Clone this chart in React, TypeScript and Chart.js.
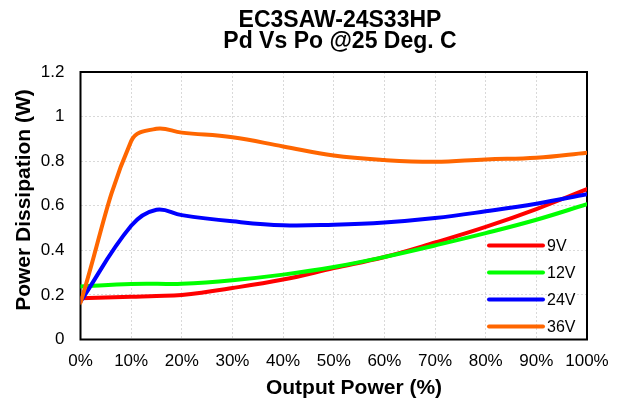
import React, { useEffect, useRef } from "react";
import { Chart, registerables } from "chart.js";

Chart.register(...registerables);

const titleLines = ["EC3SAW-24S33HP", "Pd Vs Po @25 Deg. C"];
const xAxisTitle = "Output Power (%)";
const yAxisTitle = "Power Dissipation (W)";

const outputPct = [0, 10, 15, 20, 30, 40, 50, 60, 70, 80, 90, 100];
const seriesLabels = ["9V", "12V", "24V", "36V"];
const seriesColors = ["#FF0000", "#00FF00", "#0000FF", "#FF6600"];
const pd9V = [0.185, 0.192, 0.195, 0.2, 0.231, 0.269, 0.32, 0.37, 0.435, 0.505, 0.585, 0.675];
const pd12V = [0.238, 0.249, 0.25, 0.25, 0.266, 0.291, 0.325, 0.37, 0.422, 0.477, 0.537, 0.607];
const pd24V = [0.17, 0.51, 0.582, 0.558, 0.53, 0.512, 0.515, 0.525, 0.545, 0.575, 0.609, 0.652];
const pd36V = [0.165, 0.89, 0.945, 0.928, 0.907, 0.866, 0.825, 0.805, 0.797, 0.808, 0.815, 0.838];
const seriesValues = [pd9V, pd12V, pd24V, pd36V];

const xTickLabels = ["0%", "10%", "20%", "30%", "40%", "50%", "60%", "70%", "80%", "90%", "100%"];
const yTickLabels = ["0", "0.2", "0.4", "0.6", "0.8", "1", "1.2"];

const FONT = "'Liberation Sans', Arial, sans-serif";

const decorPlugin = {
  id: "decor",
  beforeDatasetsDraw(chart: any) {
    const { ctx, chartArea } = chart;
    ctx.save();
    ctx.strokeStyle = "#000000";
    ctx.lineWidth = 2;
    ctx.strokeRect(chartArea.left, chartArea.top, chartArea.right - chartArea.left, chartArea.bottom - chartArea.top);
    ctx.restore();
  },
  afterDraw(chart: any) {
    const { ctx, chartArea } = chart;
    ctx.save();
    ctx.fillStyle = "#000000";
    ctx.textAlign = "center";
    ctx.textBaseline = "middle";
    // chart title
    ctx.font = `bold 23px ${FONT}`;
    ctx.fillText(titleLines[0], 340, 21);
    ctx.fillText(titleLines[1], 340, 42);
    // x axis title
    ctx.font = `bold 21px ${FONT}`;
    ctx.fillText(xAxisTitle, 354, 388);
    // y axis title
    ctx.save();
    ctx.translate(24, 200);
    ctx.rotate(-Math.PI / 2);
    ctx.fillText(yAxisTitle, 0, 0);
    ctx.restore();
    // legend
    ctx.font = `16px ${FONT}`;
    ctx.textAlign = "left";
    const x0 = chartArea.right - 98;
    const y0 = chartArea.bottom - 94;
    chart.data.datasets.forEach((ds: any, i: number) => {
      const y = y0 + i * 27;
      ctx.strokeStyle = ds.borderColor;
      ctx.lineWidth = 4;
      ctx.lineCap = "round";
      ctx.beginPath();
      ctx.moveTo(x0, y);
      ctx.lineTo(x0 + 54, y);
      ctx.stroke();
      ctx.fillText(ds.label, x0 + 58, y + 1);
    });
    ctx.restore();
  },
};

export default function App() {
  const ref = useRef<HTMLCanvasElement>(null);
  useEffect(() => {
    document.body.style.margin = "0";
    const canvas = ref.current!;
    const chart = new Chart(canvas, {
      type: "line",
      data: {
        datasets: seriesLabels.map((label, i) => ({
          label,
          data: outputPct.map((x, j) => ({ x, y: seriesValues[i][j] })),
          borderColor: seriesColors[i],
          backgroundColor: seriesColors[i],
          borderWidth: 4,
          pointRadius: 0,
          tension: 0.4,
          fill: false,
          order: seriesLabels.length - i,
          borderCapStyle: "round",
        })),
      },
      options: {
        responsive: false,
        animation: false,
        layout: { padding: { top: 72, right: 35, left: 0, bottom: 0 } },
        plugins: { legend: { display: false }, title: { display: false }, tooltip: { enabled: false } },
        scales: {
          x: {
            type: "linear",
            min: 0,
            max: 100,
            afterFit: (s: any) => { s.height = 63.5; },
            afterBuildTicks: (s: any) => {
              s.ticks = xTickLabels.map((_, i) => ({ value: i * 10 }));
            },
            ticks: {
              callback: (_v: any, i: number) => xTickLabels[i],
              color: "#000000",
              font: { family: FONT, size: 17 },
              padding: 12,
              maxRotation: 0,
              autoSkip: false,
            },
            grid: { color: "#d9d9d9", drawTicks: false, lineWidth: 1 },
            border: { display: false, dash: [2, 2] },
          },
          y: {
            type: "linear",
            min: 0,
            max: 1.2,
            afterFit: (s: any) => { s.width = 80.5; },
            afterBuildTicks: (s: any) => {
              s.ticks = yTickLabels.map((_, i) => ({ value: i * 0.2 }));
            },
            ticks: {
              callback: (_v: any, i: number) => yTickLabels[i],
              color: "#000000",
              font: { family: FONT, size: 17 },
              padding: 16,
              autoSkip: false,
            },
            grid: { color: "#d9d9d9", drawTicks: false, lineWidth: 1 },
            border: { display: false, dash: [2, 2] },
          },
        },
      },
      plugins: [decorPlugin],
    });
    return () => chart.destroy();
  }, []);
  return (
    <div style={{ position: "absolute", left: 0, top: 0, width: 622, height: 403 }}>
      <canvas ref={ref} width={622} height={403} />
    </div>
  );
}
